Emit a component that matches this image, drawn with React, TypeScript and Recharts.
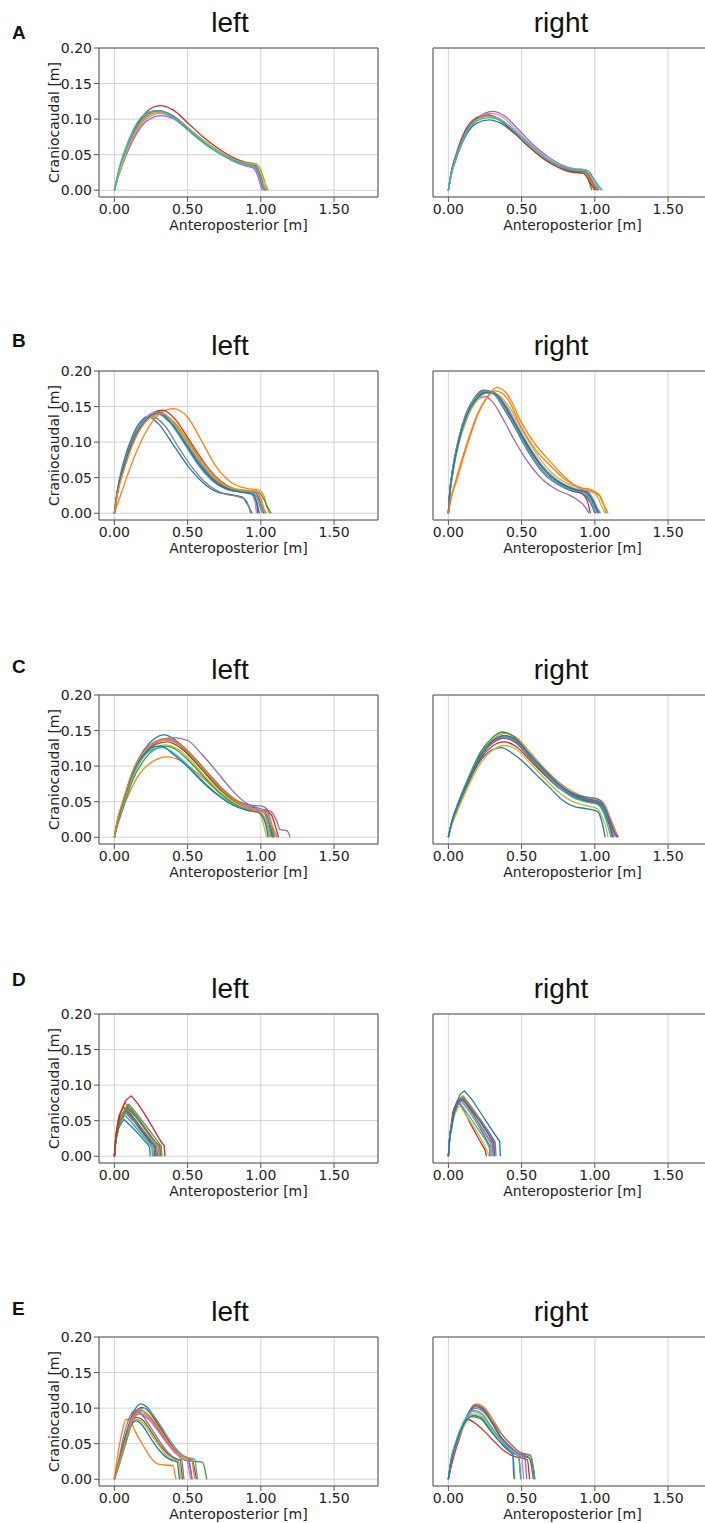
import React from "react";
import { LineChart, Line, XAxis, YAxis, CartesianGrid, ReferenceArea } from "recharts";

type Curve = number[][];

const X_TICKS = [0, 0.5, 1, 1.5];
const Y_TICKS = [0, 0.05, 0.1, 0.15, 0.2];
const ROW_LETTERS = ["A", "B", "C", "D", "E"];
const SIDE_TITLES = ["left", "right"];
const X_LABEL = "Anteroposterior [m]";
const Y_LABEL = "Craniocaudal [m]";

// trajectories, [anteroposterior, craniocaudal] in metres
const A_LEFT: Curve[] = [
  [[0,0],[0.03,0.025],[0.08,0.055],[0.15,0.087],[0.22,0.105],[0.3,0.112],[0.4,0.104],[0.5,0.087],[0.6,0.07],[0.7,0.055],[0.8,0.043],[0.9,0.036],[0.96,0.033],[0.99,0.02],[1.01,0.006],[1.03,0]],
  [[0,0],[0.03,0.023],[0.08,0.052],[0.15,0.084],[0.22,0.103],[0.3,0.11],[0.4,0.103],[0.5,0.087],[0.6,0.071],[0.7,0.057],[0.8,0.045],[0.9,0.039],[0.97,0.037],[1.0,0.028],[1.03,0.01],[1.05,0]],
  [[0,0],[0.03,0.024],[0.08,0.054],[0.15,0.086],[0.22,0.105],[0.3,0.111],[0.4,0.102],[0.5,0.085],[0.6,0.068],[0.7,0.054],[0.8,0.043],[0.9,0.035],[0.95,0.033],[0.98,0.022],[1.0,0.008],[1.02,0]],
  [[0,0],[0.03,0.024],[0.08,0.055],[0.15,0.09],[0.22,0.11],[0.31,0.119],[0.4,0.113],[0.5,0.095],[0.6,0.076],[0.7,0.06],[0.8,0.047],[0.9,0.039],[0.96,0.036],[0.99,0.024],[1.01,0.008],[1.03,0]],
  [[0,0],[0.03,0.021],[0.08,0.049],[0.15,0.079],[0.22,0.097],[0.32,0.105],[0.4,0.101],[0.5,0.086],[0.6,0.07],[0.7,0.055],[0.8,0.042],[0.9,0.034],[0.95,0.031],[0.98,0.02],[1.0,0.006],[1.01,0]],
  [[0,0],[0.03,0.023],[0.08,0.053],[0.15,0.085],[0.22,0.104],[0.3,0.111],[0.4,0.104],[0.5,0.088],[0.6,0.071],[0.7,0.056],[0.8,0.044],[0.9,0.037],[0.96,0.035],[0.99,0.025],[1.02,0.008],[1.04,0]],
  [[0,0],[0.03,0.022],[0.08,0.051],[0.15,0.082],[0.22,0.1],[0.31,0.108],[0.4,0.102],[0.5,0.086],[0.6,0.07],[0.7,0.055],[0.8,0.043],[0.9,0.035],[0.95,0.033],[0.98,0.022],[1.0,0.007],[1.02,0]],
  [[0,0],[0.03,0.025],[0.08,0.056],[0.15,0.088],[0.22,0.106],[0.29,0.112],[0.4,0.105],[0.5,0.088],[0.6,0.071],[0.7,0.056],[0.8,0.044],[0.9,0.037],[0.96,0.034],[0.99,0.022],[1.01,0.007],[1.03,0]],
  [[0,0],[0.03,0.023],[0.08,0.053],[0.15,0.085],[0.22,0.104],[0.3,0.11],[0.4,0.103],[0.5,0.087],[0.6,0.071],[0.7,0.056],[0.8,0.045],[0.9,0.038],[0.97,0.036],[1.0,0.026],[1.02,0.009],[1.04,0]],
  [[0,0],[0.03,0.029],[0.08,0.061],[0.15,0.093],[0.21,0.107],[0.28,0.112],[0.4,0.103],[0.5,0.086],[0.6,0.069],[0.7,0.054],[0.8,0.043],[0.9,0.036],[0.96,0.034],[0.99,0.024],[1.01,0.008],[1.03,0]],
];

const A_RIGHT: Curve[] = [
  [[0,0],[0.02,0.022],[0.05,0.042],[0.12,0.077],[0.19,0.094],[0.28,0.099],[0.35,0.095],[0.45,0.08],[0.55,0.061],[0.65,0.045],[0.75,0.033],[0.85,0.027],[0.93,0.026],[0.96,0.02],[0.99,0.008],[1.01,0]],
  [[0,0],[0.02,0.024],[0.05,0.045],[0.12,0.082],[0.19,0.1],[0.27,0.106],[0.35,0.1],[0.45,0.083],[0.55,0.063],[0.65,0.046],[0.75,0.034],[0.85,0.028],[0.92,0.027],[0.95,0.022],[0.98,0.008],[1.0,0]],
  [[0,0],[0.02,0.023],[0.05,0.044],[0.12,0.08],[0.19,0.098],[0.27,0.104],[0.35,0.099],[0.45,0.082],[0.55,0.062],[0.65,0.045],[0.75,0.033],[0.85,0.026],[0.92,0.024],[0.95,0.018],[0.97,0.006],[0.98,0]],
  [[0,0],[0.02,0.027],[0.05,0.049],[0.12,0.086],[0.19,0.102],[0.26,0.106],[0.35,0.099],[0.45,0.081],[0.55,0.061],[0.65,0.044],[0.75,0.032],[0.85,0.025],[0.92,0.024],[0.95,0.017],[0.98,0.006],[1.0,0]],
  [[0,0],[0.02,0.022],[0.05,0.043],[0.12,0.08],[0.2,0.101],[0.3,0.111],[0.38,0.105],[0.48,0.085],[0.58,0.064],[0.68,0.047],[0.78,0.035],[0.86,0.03],[0.93,0.029],[0.97,0.024],[1.0,0.01],[1.03,0]],
  [[0,0],[0.02,0.024],[0.05,0.045],[0.12,0.081],[0.19,0.099],[0.27,0.105],[0.35,0.1],[0.45,0.083],[0.55,0.063],[0.65,0.046],[0.75,0.034],[0.85,0.028],[0.93,0.027],[0.96,0.02],[0.99,0.008],[1.01,0]],
  [[0,0],[0.02,0.023],[0.05,0.044],[0.12,0.081],[0.2,0.1],[0.29,0.108],[0.37,0.103],[0.46,0.085],[0.56,0.065],[0.66,0.047],[0.76,0.035],[0.86,0.03],[0.93,0.029],[0.97,0.022],[1.0,0.008],[1.02,0]],
  [[0,0],[0.02,0.024],[0.05,0.046],[0.12,0.082],[0.19,0.1],[0.27,0.105],[0.35,0.1],[0.45,0.083],[0.55,0.063],[0.65,0.046],[0.75,0.034],[0.85,0.028],[0.92,0.027],[0.96,0.021],[0.99,0.008],[1.02,0]],
  [[0,0],[0.02,0.023],[0.05,0.044],[0.12,0.08],[0.19,0.098],[0.27,0.104],[0.35,0.1],[0.45,0.084],[0.55,0.064],[0.65,0.047],[0.75,0.035],[0.85,0.029],[0.93,0.028],[0.97,0.022],[1.01,0.008],[1.04,0]],
  [[0,0],[0.02,0.024],[0.05,0.045],[0.12,0.08],[0.19,0.097],[0.28,0.102],[0.36,0.098],[0.46,0.082],[0.56,0.063],[0.66,0.046],[0.76,0.034],[0.86,0.029],[0.94,0.028],[0.98,0.02],[1.02,0.008],[1.05,0]],
];

const B_LEFT: Curve[] = [
  [[0,0],[0.02,0.032],[0.06,0.07],[0.12,0.107],[0.18,0.129],[0.23,0.136],[0.3,0.126],[0.4,0.097],[0.5,0.067],[0.6,0.044],[0.7,0.03],[0.8,0.026],[0.87,0.023],[0.91,0.012],[0.94,0]],
  [[0,0],[0.03,0.018],[0.08,0.048],[0.15,0.086],[0.22,0.116],[0.3,0.138],[0.4,0.147],[0.5,0.135],[0.6,0.1],[0.7,0.064],[0.8,0.043],[0.9,0.035],[0.98,0.033],[1.02,0.025],[1.04,0.01],[1.06,0]],
  [[0,0],[0.02,0.027],[0.07,0.066],[0.14,0.106],[0.22,0.132],[0.31,0.141],[0.4,0.128],[0.5,0.1],[0.6,0.07],[0.7,0.047],[0.8,0.035],[0.9,0.031],[0.98,0.03],[1.02,0.02],[1.05,0.007],[1.07,0]],
  [[0,0],[0.02,0.03],[0.07,0.07],[0.14,0.11],[0.22,0.135],[0.33,0.145],[0.42,0.131],[0.52,0.1],[0.62,0.069],[0.72,0.046],[0.82,0.034],[0.9,0.031],[0.96,0.03],[0.99,0.018],[1.01,0.006],[1.02,0]],
  [[0,0],[0.02,0.028],[0.07,0.067],[0.14,0.107],[0.22,0.133],[0.3,0.143],[0.4,0.128],[0.5,0.098],[0.6,0.067],[0.7,0.045],[0.8,0.034],[0.9,0.031],[0.96,0.03],[0.99,0.02],[1.01,0.006],[1.03,0]],
  [[0,0],[0.02,0.028],[0.07,0.066],[0.14,0.105],[0.22,0.131],[0.3,0.14],[0.4,0.124],[0.5,0.094],[0.6,0.064],[0.7,0.043],[0.8,0.033],[0.88,0.03],[0.94,0.029],[0.97,0.017],[0.99,0]],
  [[0,0],[0.02,0.029],[0.07,0.068],[0.14,0.108],[0.21,0.133],[0.28,0.142],[0.38,0.128],[0.48,0.098],[0.58,0.066],[0.68,0.044],[0.78,0.033],[0.87,0.03],[0.93,0.028],[0.96,0.016],[0.97,0]],
  [[0,0],[0.02,0.03],[0.06,0.066],[0.12,0.103],[0.19,0.127],[0.26,0.136],[0.34,0.124],[0.44,0.092],[0.54,0.062],[0.64,0.04],[0.74,0.028],[0.83,0.024],[0.89,0.02],[0.92,0.008],[0.93,0]],
  [[0,0],[0.02,0.027],[0.07,0.065],[0.14,0.104],[0.22,0.13],[0.31,0.139],[0.4,0.127],[0.5,0.099],[0.6,0.07],[0.7,0.047],[0.8,0.035],[0.9,0.032],[0.97,0.031],[1.0,0.02],[1.02,0.006],[1.04,0]],
  [[0,0],[0.02,0.03],[0.07,0.069],[0.14,0.108],[0.21,0.132],[0.29,0.14],[0.38,0.127],[0.48,0.097],[0.58,0.066],[0.68,0.044],[0.78,0.033],[0.88,0.03],[0.95,0.029],[0.98,0.018],[1.0,0.005],[1.01,0]],
  [[0,0],[0.02,0.03],[0.07,0.069],[0.14,0.107],[0.22,0.132],[0.3,0.141],[0.4,0.124],[0.5,0.093],[0.6,0.063],[0.7,0.042],[0.8,0.032],[0.88,0.029],[0.94,0.027],[0.97,0.015],[0.98,0]],
  [[0,0],[0.02,0.026],[0.07,0.064],[0.14,0.104],[0.22,0.13],[0.31,0.14],[0.41,0.128],[0.51,0.1],[0.61,0.07],[0.71,0.047],[0.81,0.035],[0.9,0.032],[0.97,0.031],[1.0,0.02],[1.02,0.007],[1.03,0]],
];

const B_RIGHT: Curve[] = [
  [[0,0],[0.01,0.03],[0.03,0.062],[0.07,0.103],[0.12,0.137],[0.18,0.161],[0.25,0.172],[0.3,0.171],[0.38,0.153],[0.45,0.126],[0.55,0.088],[0.65,0.058],[0.75,0.041],[0.85,0.031],[0.92,0.027],[0.96,0.018],[0.99,0.006],[1.0,0]],
  [[0,0],[0.02,0.022],[0.05,0.042],[0.12,0.09],[0.2,0.138],[0.27,0.165],[0.33,0.177],[0.4,0.168],[0.5,0.127],[0.6,0.095],[0.69,0.074],[0.8,0.05],[0.9,0.034],[0.98,0.03],[1.03,0.025],[1.06,0.012],[1.09,0]],
  [[0,0],[0.01,0.028],[0.03,0.058],[0.07,0.1],[0.12,0.134],[0.18,0.158],[0.25,0.17],[0.31,0.168],[0.38,0.152],[0.46,0.123],[0.56,0.088],[0.66,0.06],[0.76,0.043],[0.86,0.034],[0.94,0.031],[0.98,0.022],[1.01,0.008],[1.03,0]],
  [[0,0],[0.01,0.032],[0.03,0.064],[0.07,0.105],[0.12,0.14],[0.18,0.163],[0.24,0.173],[0.3,0.17],[0.37,0.15],[0.45,0.122],[0.55,0.085],[0.65,0.056],[0.75,0.04],[0.85,0.031],[0.91,0.028],[0.95,0.016],[0.97,0]],
  [[0,0],[0.01,0.03],[0.03,0.06],[0.07,0.1],[0.12,0.132],[0.18,0.155],[0.25,0.164],[0.3,0.157],[0.38,0.13],[0.45,0.103],[0.55,0.07],[0.65,0.046],[0.75,0.032],[0.82,0.026],[0.88,0.019],[0.93,0.01],[0.96,0]],
  [[0,0],[0.01,0.029],[0.03,0.06],[0.07,0.102],[0.12,0.136],[0.18,0.16],[0.25,0.171],[0.31,0.17],[0.38,0.153],[0.46,0.125],[0.56,0.089],[0.66,0.06],[0.76,0.043],[0.86,0.034],[0.93,0.031],[0.97,0.022],[1.0,0.008],[1.02,0]],
  [[0,0],[0.01,0.027],[0.03,0.057],[0.07,0.098],[0.12,0.132],[0.19,0.158],[0.26,0.169],[0.32,0.168],[0.4,0.15],[0.48,0.12],[0.58,0.085],[0.68,0.058],[0.78,0.042],[0.88,0.034],[0.95,0.031],[0.99,0.02],[1.02,0.007],[1.04,0]],
  [[0,0],[0.01,0.03],[0.03,0.061],[0.07,0.102],[0.12,0.136],[0.18,0.16],[0.25,0.171],[0.3,0.17],[0.38,0.152],[0.45,0.125],[0.55,0.087],[0.65,0.058],[0.75,0.042],[0.85,0.033],[0.92,0.03],[0.96,0.02],[0.99,0.006],[1.01,0]],
  [[0,0],[0.01,0.026],[0.03,0.055],[0.07,0.096],[0.13,0.134],[0.2,0.16],[0.28,0.17],[0.34,0.167],[0.42,0.148],[0.5,0.118],[0.6,0.084],[0.7,0.058],[0.8,0.043],[0.9,0.036],[0.98,0.033],[1.02,0.022],[1.05,0.008],[1.07,0]],
  [[0,0],[0.01,0.031],[0.03,0.063],[0.07,0.104],[0.12,0.138],[0.18,0.162],[0.25,0.172],[0.3,0.17],[0.37,0.152],[0.45,0.124],[0.55,0.086],[0.65,0.057],[0.75,0.041],[0.85,0.032],[0.93,0.029],[0.97,0.02],[1.0,0.007],[1.02,0]],
  [[0,0],[0.01,0.028],[0.03,0.058],[0.07,0.1],[0.12,0.135],[0.19,0.16],[0.26,0.17],[0.32,0.168],[0.39,0.15],[0.47,0.121],[0.57,0.086],[0.67,0.058],[0.77,0.042],[0.87,0.033],[0.94,0.03],[0.98,0.02],[1.01,0.007],[1.03,0]],
  [[0,0],[0.02,0.024],[0.05,0.046],[0.12,0.094],[0.2,0.14],[0.27,0.164],[0.32,0.172],[0.4,0.162],[0.5,0.12],[0.6,0.088],[0.7,0.066],[0.8,0.047],[0.9,0.036],[0.98,0.032],[1.03,0.026],[1.06,0.012],[1.08,0]],
];

const C_LEFT: Curve[] = [
  [[0,0],[0.02,0.022],[0.06,0.05],[0.12,0.09],[0.2,0.122],[0.27,0.138],[0.34,0.144],[0.42,0.136],[0.5,0.118],[0.6,0.095],[0.7,0.072],[0.8,0.054],[0.9,0.044],[0.98,0.04],[1.02,0.036],[1.05,0.02],[1.07,0.008],[1.08,0]],
  [[0,0],[0.03,0.022],[0.08,0.052],[0.15,0.082],[0.25,0.105],[0.36,0.113],[0.45,0.108],[0.55,0.093],[0.65,0.075],[0.75,0.057],[0.85,0.043],[0.92,0.037],[1.0,0.034],[1.03,0.025],[1.05,0.01],[1.06,0]],
  [[0,0],[0.02,0.018],[0.06,0.042],[0.12,0.078],[0.2,0.108],[0.28,0.124],[0.35,0.128],[0.43,0.122],[0.52,0.105],[0.62,0.083],[0.72,0.062],[0.82,0.047],[0.92,0.04],[1.0,0.037],[1.04,0.03],[1.07,0.012],[1.09,0]],
  [[0,0],[0.02,0.02],[0.06,0.046],[0.12,0.085],[0.2,0.117],[0.28,0.132],[0.36,0.137],[0.45,0.129],[0.55,0.108],[0.65,0.085],[0.75,0.064],[0.85,0.048],[0.93,0.041],[1.02,0.038],[1.07,0.032],[1.1,0.015],[1.12,0]],
  [[0,0],[0.02,0.018],[0.06,0.044],[0.12,0.082],[0.2,0.115],[0.3,0.135],[0.4,0.14],[0.5,0.136],[0.6,0.116],[0.7,0.092],[0.8,0.067],[0.9,0.048],[1.0,0.04],[1.07,0.036],[1.11,0.022],[1.13,0.011],[1.18,0.009],[1.2,0]],
  [[0,0],[0.02,0.02],[0.06,0.046],[0.12,0.084],[0.2,0.115],[0.28,0.13],[0.36,0.134],[0.45,0.126],[0.55,0.106],[0.65,0.083],[0.75,0.062],[0.85,0.047],[0.93,0.04],[1.0,0.038],[1.04,0.03],[1.06,0.012],[1.08,0]],
  [[0,0],[0.02,0.021],[0.06,0.047],[0.12,0.086],[0.2,0.118],[0.28,0.133],[0.37,0.137],[0.46,0.128],[0.56,0.107],[0.66,0.084],[0.76,0.063],[0.86,0.048],[0.94,0.041],[1.01,0.038],[1.05,0.03],[1.08,0.012],[1.1,0]],
  [[0,0],[0.02,0.022],[0.06,0.049],[0.12,0.088],[0.2,0.12],[0.28,0.135],[0.36,0.139],[0.45,0.131],[0.55,0.111],[0.65,0.088],[0.75,0.066],[0.85,0.05],[0.93,0.045],[1.0,0.044],[1.04,0.04],[1.07,0.02],[1.09,0]],
  [[0,0],[0.02,0.02],[0.06,0.045],[0.12,0.083],[0.2,0.113],[0.28,0.127],[0.35,0.13],[0.44,0.123],[0.54,0.104],[0.64,0.081],[0.74,0.061],[0.84,0.046],[0.92,0.04],[0.98,0.037],[1.01,0.025],[1.03,0.008],[1.04,0]],
  [[0,0],[0.02,0.021],[0.06,0.047],[0.12,0.085],[0.2,0.114],[0.27,0.124],[0.33,0.126],[0.42,0.116],[0.52,0.097],[0.62,0.076],[0.72,0.058],[0.82,0.045],[0.92,0.039],[1.0,0.037],[1.04,0.028],[1.06,0.01],[1.07,0]],
  [[0,0],[0.02,0.022],[0.06,0.05],[0.12,0.088],[0.2,0.116],[0.27,0.127],[0.32,0.128],[0.4,0.117],[0.5,0.099],[0.6,0.078],[0.7,0.06],[0.8,0.046],[0.9,0.038],[0.97,0.036],[1.01,0.03],[1.04,0.012],[1.05,0]],
  [[0,0],[0.02,0.024],[0.06,0.052],[0.12,0.09],[0.2,0.12],[0.28,0.134],[0.36,0.138],[0.45,0.13],[0.55,0.109],[0.65,0.086],[0.75,0.064],[0.85,0.048],[0.93,0.039],[1.0,0.036],[1.05,0.032],[1.08,0.015],[1.11,0]],
];

const C_RIGHT: Curve[] = [
  [[0,0],[0.02,0.016],[0.06,0.04],[0.1,0.06],[0.16,0.087],[0.22,0.108],[0.29,0.122],[0.36,0.126],[0.45,0.116],[0.5,0.108],[0.6,0.088],[0.7,0.068],[0.78,0.052],[0.86,0.043],[0.95,0.04],[1.02,0.036],[1.05,0.02],[1.07,0]],
  [[0,0],[0.02,0.018],[0.06,0.042],[0.1,0.063],[0.16,0.092],[0.22,0.117],[0.3,0.137],[0.38,0.146],[0.46,0.141],[0.55,0.121],[0.65,0.098],[0.75,0.078],[0.85,0.064],[0.95,0.056],[1.02,0.054],[1.07,0.045],[1.11,0.025],[1.14,0.01],[1.16,0]],
  [[0,0],[0.02,0.02],[0.06,0.045],[0.1,0.066],[0.16,0.095],[0.22,0.12],[0.3,0.14],[0.37,0.148],[0.45,0.141],[0.55,0.118],[0.65,0.094],[0.75,0.074],[0.85,0.06],[0.95,0.053],[1.02,0.05],[1.06,0.04],[1.1,0.02],[1.13,0.006],[1.15,0]],
  [[0,0],[0.02,0.017],[0.06,0.04],[0.1,0.06],[0.16,0.087],[0.22,0.111],[0.3,0.128],[0.38,0.134],[0.46,0.128],[0.55,0.11],[0.65,0.089],[0.75,0.07],[0.85,0.057],[0.95,0.05],[1.02,0.047],[1.06,0.036],[1.1,0.018],[1.12,0]],
  [[0,0],[0.02,0.018],[0.06,0.042],[0.1,0.062],[0.16,0.09],[0.22,0.114],[0.3,0.133],[0.38,0.14],[0.46,0.134],[0.55,0.114],[0.65,0.092],[0.75,0.072],[0.85,0.058],[0.95,0.052],[1.02,0.049],[1.06,0.038],[1.1,0.018],[1.13,0]],
  [[0,0],[0.02,0.018],[0.06,0.042],[0.1,0.062],[0.16,0.089],[0.22,0.113],[0.3,0.132],[0.38,0.139],[0.46,0.133],[0.55,0.113],[0.65,0.091],[0.75,0.071],[0.85,0.058],[0.95,0.051],[1.02,0.048],[1.06,0.036],[1.1,0.016],[1.12,0]],
  [[0,0],[0.02,0.019],[0.06,0.043],[0.1,0.063],[0.16,0.091],[0.22,0.115],[0.3,0.134],[0.38,0.141],[0.46,0.136],[0.55,0.116],[0.65,0.094],[0.75,0.074],[0.85,0.061],[0.95,0.056],[1.02,0.053],[1.07,0.043],[1.11,0.022],[1.14,0]],
  [[0,0],[0.02,0.018],[0.06,0.042],[0.1,0.062],[0.16,0.09],[0.22,0.115],[0.3,0.135],[0.38,0.143],[0.46,0.138],[0.55,0.118],[0.65,0.096],[0.75,0.076],[0.85,0.062],[0.95,0.056],[1.02,0.054],[1.06,0.045],[1.1,0.024],[1.13,0.008],[1.15,0]],
  [[0,0],[0.02,0.015],[0.06,0.036],[0.1,0.055],[0.16,0.082],[0.22,0.104],[0.3,0.122],[0.38,0.129],[0.46,0.124],[0.55,0.106],[0.65,0.084],[0.75,0.064],[0.85,0.05],[0.95,0.044],[1.02,0.04],[1.05,0.028],[1.08,0.01],[1.09,0]],
  [[0,0],[0.02,0.019],[0.06,0.044],[0.1,0.064],[0.16,0.092],[0.22,0.116],[0.3,0.135],[0.38,0.142],[0.46,0.136],[0.55,0.115],[0.65,0.092],[0.75,0.071],[0.85,0.056],[0.95,0.049],[1.02,0.046],[1.06,0.034],[1.09,0.015],[1.11,0]],
  [[0,0],[0.02,0.019],[0.06,0.043],[0.1,0.063],[0.16,0.091],[0.22,0.116],[0.3,0.135],[0.38,0.143],[0.46,0.137],[0.55,0.117],[0.65,0.095],[0.75,0.075],[0.85,0.061],[0.95,0.054],[1.02,0.051],[1.07,0.04],[1.11,0.02],[1.14,0.005],[1.16,0]],
];

const D_LEFT: Curve[] = [
  [[0,0],[0.01,0.022],[0.03,0.04],[0.064,0.052],[0.12,0.041],[0.18,0.028],[0.23,0.016],[0.24,0.013],[0.245,0]],
  [[0,0],[0.01,0.03],[0.03,0.056],[0.07,0.076],[0.12,0.063],[0.2,0.04],[0.26,0.022],[0.28,0.014],[0.285,0]],
  [[0,0],[0.01,0.026],[0.04,0.055],[0.09,0.072],[0.15,0.057],[0.22,0.037],[0.28,0.02],[0.3,0.014],[0.305,0]],
  [[0,0],[0.01,0.03],[0.03,0.055],[0.06,0.069],[0.1,0.063],[0.17,0.042],[0.24,0.022],[0.26,0.014],[0.265,0]],
  [[0,0],[0.01,0.025],[0.04,0.05],[0.08,0.066],[0.14,0.052],[0.21,0.033],[0.27,0.017],[0.29,0.013],[0.295,0]],
  [[0,0],[0.01,0.024],[0.03,0.045],[0.07,0.063],[0.13,0.05],[0.2,0.031],[0.25,0.017],[0.27,0.013],[0.275,0]],
  [[0,0],[0.01,0.024],[0.04,0.048],[0.08,0.062],[0.14,0.05],[0.21,0.033],[0.28,0.017],[0.31,0.013],[0.315,0]],
  [[0,0],[0.01,0.026],[0.04,0.055],[0.1,0.073],[0.16,0.058],[0.23,0.039],[0.3,0.02],[0.32,0.014],[0.325,0]],
  [[0,0],[0.01,0.026],[0.03,0.047],[0.06,0.06],[0.11,0.05],[0.18,0.033],[0.24,0.018],[0.26,0.014],[0.265,0]],
  [[0,0],[0.01,0.025],[0.03,0.046],[0.07,0.058],[0.12,0.047],[0.18,0.032],[0.24,0.017],[0.255,0.013],[0.26,0]],
  [[0,0],[0.01,0.024],[0.04,0.05],[0.08,0.064],[0.14,0.051],[0.2,0.034],[0.26,0.018],[0.28,0.013],[0.285,0]],
  [[0,0],[0.01,0.025],[0.04,0.05],[0.09,0.067],[0.15,0.054],[0.22,0.036],[0.28,0.019],[0.3,0.014],[0.305,0]],
  [[0,0],[0.01,0.024],[0.04,0.05],[0.09,0.068],[0.15,0.055],[0.22,0.036],[0.28,0.02],[0.31,0.015],[0.315,0]],
  [[0,0],[0.01,0.028],[0.04,0.06],[0.08,0.079],[0.115,0.085],[0.16,0.074],[0.22,0.055],[0.28,0.034],[0.32,0.02],[0.34,0.015],[0.345,0]],
];

const D_RIGHT: Curve[] = [
  [[0,0],[0.01,0.03],[0.04,0.068],[0.08,0.087],[0.11,0.092],[0.16,0.08],[0.23,0.058],[0.3,0.036],[0.35,0.021],[0.355,0]],
  [[0,0],[0.01,0.03],[0.04,0.065],[0.07,0.08],[0.1,0.085],[0.15,0.072],[0.22,0.052],[0.28,0.033],[0.31,0.022],[0.315,0]],
  [[0,0],[0.01,0.03],[0.04,0.066],[0.07,0.079],[0.09,0.082],[0.14,0.068],[0.2,0.049],[0.26,0.03],[0.29,0.02],[0.295,0]],
  [[0,0],[0.01,0.03],[0.03,0.062],[0.063,0.078],[0.1,0.067],[0.15,0.046],[0.2,0.027],[0.25,0.009],[0.26,0]],
  [[0,0],[0.01,0.028],[0.04,0.062],[0.07,0.076],[0.1,0.08],[0.15,0.068],[0.22,0.05],[0.29,0.03],[0.32,0.02],[0.325,0]],
  [[0,0],[0.01,0.028],[0.04,0.063],[0.07,0.076],[0.09,0.078],[0.14,0.064],[0.2,0.045],[0.25,0.027],[0.28,0.015],[0.285,0]],
  [[0,0],[0.01,0.029],[0.04,0.062],[0.07,0.075],[0.09,0.077],[0.14,0.064],[0.2,0.046],[0.26,0.028],[0.29,0.017],[0.295,0]],
  [[0,0],[0.01,0.029],[0.04,0.064],[0.07,0.078],[0.1,0.083],[0.15,0.07],[0.21,0.051],[0.27,0.032],[0.3,0.02],[0.305,0]],
  [[0,0],[0.01,0.025],[0.04,0.057],[0.07,0.07],[0.08,0.071],[0.13,0.055],[0.19,0.036],[0.24,0.018],[0.27,0.005],[0.275,0]],
  [[0,0],[0.01,0.028],[0.04,0.06],[0.065,0.074],[0.08,0.075],[0.13,0.06],[0.19,0.042],[0.25,0.024],[0.28,0.012],[0.285,0]],
  [[0,0],[0.01,0.028],[0.04,0.062],[0.07,0.077],[0.1,0.08],[0.15,0.067],[0.22,0.048],[0.28,0.029],[0.31,0.019],[0.315,0]],
];

const E_LEFT: Curve[] = [
  [[0,0],[0.03,0.024],[0.08,0.064],[0.13,0.094],[0.18,0.106],[0.22,0.102],[0.28,0.085],[0.34,0.064],[0.4,0.045],[0.45,0.033],[0.5,0.03],[0.52,0.015],[0.53,0]],
  [[0,0],[0.02,0.03],[0.05,0.064],[0.08,0.084],[0.1,0.084],[0.14,0.068],[0.2,0.046],[0.25,0.03],[0.29,0.022],[0.35,0.02],[0.4,0.019],[0.415,0.006],[0.42,0]],
  [[0,0],[0.03,0.018],[0.08,0.052],[0.13,0.084],[0.18,0.097],[0.23,0.09],[0.3,0.07],[0.36,0.052],[0.42,0.036],[0.48,0.027],[0.55,0.025],[0.6,0.024],[0.62,0.012],[0.63,0]],
  [[0,0],[0.03,0.022],[0.08,0.06],[0.13,0.09],[0.19,0.101],[0.24,0.094],[0.3,0.076],[0.36,0.057],[0.42,0.04],[0.48,0.03],[0.53,0.027],[0.55,0.012],[0.56,0]],
  [[0,0],[0.03,0.021],[0.08,0.056],[0.12,0.083],[0.17,0.092],[0.23,0.085],[0.3,0.068],[0.36,0.052],[0.42,0.038],[0.47,0.032],[0.5,0.03],[0.52,0.012],[0.53,0]],
  [[0,0],[0.03,0.022],[0.07,0.055],[0.11,0.078],[0.15,0.087],[0.2,0.082],[0.26,0.064],[0.32,0.046],[0.38,0.033],[0.42,0.028],[0.45,0.026],[0.46,0.01],[0.465,0]],
  [[0,0],[0.03,0.022],[0.08,0.058],[0.12,0.085],[0.17,0.094],[0.22,0.089],[0.29,0.07],[0.35,0.053],[0.41,0.038],[0.46,0.031],[0.49,0.029],[0.51,0.012],[0.52,0]],
  [[0,0],[0.03,0.028],[0.07,0.066],[0.11,0.09],[0.14,0.097],[0.19,0.09],[0.25,0.072],[0.31,0.053],[0.37,0.037],[0.42,0.029],[0.46,0.027],[0.47,0.01],[0.475,0]],
  [[0,0],[0.03,0.022],[0.07,0.052],[0.11,0.076],[0.15,0.084],[0.2,0.078],[0.26,0.06],[0.32,0.043],[0.37,0.031],[0.42,0.026],[0.44,0.024],[0.45,0.01],[0.455,0]],
  [[0,0],[0.03,0.02],[0.08,0.056],[0.14,0.09],[0.2,0.1],[0.25,0.094],[0.31,0.077],[0.37,0.058],[0.43,0.041],[0.49,0.031],[0.55,0.028],[0.56,0.012],[0.57,0]],
  [[0,0],[0.03,0.023],[0.07,0.055],[0.11,0.075],[0.15,0.082],[0.19,0.076],[0.25,0.057],[0.31,0.04],[0.36,0.03],[0.4,0.026],[0.43,0.024],[0.44,0.008],[0.445,0]],
  [[0,0],[0.03,0.021],[0.08,0.057],[0.13,0.086],[0.18,0.096],[0.23,0.091],[0.3,0.073],[0.36,0.055],[0.42,0.039],[0.48,0.031],[0.53,0.028],[0.54,0.012],[0.55,0]],
];

const E_RIGHT: Curve[] = [
  [[0,0],[0.02,0.028],[0.05,0.05],[0.11,0.081],[0.18,0.104],[0.24,0.098],[0.3,0.08],[0.35,0.062],[0.42,0.046],[0.5,0.034],[0.55,0.031],[0.57,0.015],[0.58,0]],
  [[0,0],[0.02,0.027],[0.05,0.049],[0.11,0.08],[0.19,0.106],[0.25,0.1],[0.31,0.082],[0.36,0.065],[0.43,0.049],[0.5,0.036],[0.56,0.033],[0.58,0.016],[0.59,0]],
  [[0,0],[0.02,0.026],[0.05,0.048],[0.11,0.078],[0.16,0.09],[0.22,0.087],[0.28,0.072],[0.34,0.056],[0.41,0.042],[0.48,0.033],[0.55,0.03],[0.58,0.015],[0.59,0]],
  [[0,0],[0.03,0.027],[0.08,0.06],[0.13,0.084],[0.2,0.076],[0.3,0.056],[0.38,0.04],[0.45,0.032],[0.5,0.03],[0.54,0.027],[0.55,0.01],[0.555,0]],
  [[0,0],[0.02,0.027],[0.05,0.049],[0.11,0.08],[0.18,0.1],[0.24,0.095],[0.3,0.078],[0.35,0.061],[0.42,0.045],[0.48,0.036],[0.52,0.033],[0.53,0.015],[0.535,0]],
  [[0,0],[0.02,0.027],[0.05,0.049],[0.11,0.08],[0.18,0.102],[0.24,0.097],[0.3,0.079],[0.35,0.061],[0.42,0.045],[0.46,0.036],[0.48,0.033],[0.49,0.012],[0.495,0]],
  [[0,0],[0.02,0.026],[0.05,0.048],[0.11,0.078],[0.17,0.095],[0.23,0.091],[0.29,0.075],[0.35,0.058],[0.42,0.043],[0.48,0.034],[0.5,0.032],[0.51,0.012],[0.515,0]],
  [[0,0],[0.02,0.028],[0.05,0.051],[0.11,0.082],[0.18,0.105],[0.24,0.1],[0.3,0.082],[0.36,0.064],[0.43,0.048],[0.5,0.037],[0.56,0.034],[0.58,0.016],[0.59,0]],
  [[0,0],[0.02,0.025],[0.05,0.046],[0.11,0.076],[0.17,0.092],[0.23,0.088],[0.29,0.071],[0.35,0.054],[0.4,0.042],[0.44,0.036],[0.45,0.015],[0.455,0]],
  [[0,0],[0.02,0.03],[0.05,0.052],[0.11,0.083],[0.17,0.097],[0.23,0.092],[0.29,0.074],[0.35,0.057],[0.41,0.043],[0.46,0.035],[0.48,0.033],[0.49,0.012],[0.495,0]],
  [[0,0],[0.02,0.026],[0.05,0.048],[0.11,0.079],[0.16,0.088],[0.22,0.085],[0.28,0.07],[0.34,0.055],[0.39,0.044],[0.43,0.037],[0.44,0.035],[0.445,0.01],[0.45,0]],
];

const PANELS: Curve[][][] = [
  [A_LEFT, A_RIGHT],
  [B_LEFT, B_RIGHT],
  [C_LEFT, C_RIGHT],
  [D_LEFT, D_RIGHT],
  [E_LEFT, E_RIGHT],
];

// matplotlib tab10 cycle
const COLORS = ["#1f77b4", "#ff7f0e", "#2ca02c", "#d62728", "#9467bd", "#8c564b", "#e377c2", "#7f7f7f", "#bcbd22", "#17becf"];

// layout (page pixels)
const ROW_TOPS = [48, 371, 695, 1014, 1337];
const LETTER_BASELINES = [39, 347, 673, 986, 1315];
const PLOT_W = 279;
const PLOT_H = 149;
const PLOT_LEFTS = [99, 433.3];
const TITLE_CENTERS = [230, 561];
const X_DOMAIN = [-0.105, 1.8];
const Y_DOMAIN = [-0.0095, 0.2];

const AXIS_FONT = "'DejaVu Sans', sans-serif";
const TEXT_COLOR = "#222";

const toPts = (c: Curve) => c.map(([x, y]) => ({ x, y }));

function Panel({ curves, side, top, sharp }: { curves: Curve[]; side: number; top: number; sharp: boolean }) {
  const isLeft = side === 0;
  const yAxisW = isLeft ? 99 : 10;
  const plotLeft = PLOT_LEFTS[side];
  return (
    <div style={{ position: "absolute", left: plotLeft - yAxisW, top: top - 10 }}>
      <LineChart
        width={yAxisW + PLOT_W + 4}
        height={10 + PLOT_H + 40}
        margin={{ top: 10, right: 4, bottom: 0, left: 0 }}
      >
        <CartesianGrid stroke="#d2d2d2" strokeWidth={1} />
        <XAxis
          type="number"
          dataKey="x"
          domain={X_DOMAIN}
          ticks={X_TICKS}
          allowDataOverflow
          height={40}
          tickSize={5}
          axisLine={false}
          tickLine={{ stroke: "#555" }}
          tickFormatter={(v: number) => v.toFixed(2)}
          tick={{ fontSize: 14, fill: TEXT_COLOR, fontFamily: AXIS_FONT }}
          label={{ value: X_LABEL, position: "insideBottom", offset: 7.5, style: { fontSize: 14, fill: TEXT_COLOR, fontFamily: AXIS_FONT } }}
        />
        <YAxis
          type="number"
          domain={Y_DOMAIN}
          ticks={Y_TICKS}
          allowDataOverflow
          width={yAxisW}
          tickSize={5}
          axisLine={false}
          tickLine={{ stroke: "#555" }}
          tickFormatter={(v: number) => v.toFixed(2)}
          tick={isLeft ? { fontSize: 14, fill: TEXT_COLOR, fontFamily: AXIS_FONT } : false}
          label={
            isLeft
              ? { value: Y_LABEL, angle: -90, position: "insideLeft", offset: 54, style: { textAnchor: "middle", fontSize: 14, fill: TEXT_COLOR, fontFamily: AXIS_FONT } }
              : undefined
          }
        />
        {curves.map((c, i) => (
          <Line
            key={i}
            data={toPts(c)}
            dataKey="y"
            type={sharp ? "linear" : "monotone"}
            stroke={COLORS[i % COLORS.length]}
            strokeWidth={1.3}
            dot={false}
            activeDot={false}
            isAnimationActive={false}
          />
        ))}
        <ReferenceArea
          x1={X_DOMAIN[0]}
          x2={X_DOMAIN[1]}
          y1={Y_DOMAIN[0]}
          y2={Y_DOMAIN[1]}
          fill="none"
          stroke="#555"
          strokeWidth={1}
          ifOverflow="visible"
        />
      </LineChart>
    </div>
  );
}

export default function App() {
  return (
    <div
      style={{
        position: "fixed",
        left: 0,
        top: 0,
        width: 705,
        height: 1523,
        overflow: "hidden",
        background: "#fff",
        fontFamily: "'Liberation Sans', Arial, sans-serif",
      }}
    >
      {PANELS.map((row, r) => (
        <React.Fragment key={r}>
          <div
            style={{
              position: "absolute",
              left: 12,
              top: LETTER_BASELINES[r] - 16.1,
              fontSize: 19,
              lineHeight: "19px",
              fontWeight: 700,
              color: "#111",
            }}
          >
            {ROW_LETTERS[r]}
          </div>
          {row.map((curves, s) => (
            <React.Fragment key={s}>
              <div
                style={{
                  position: "absolute",
                  left: TITLE_CENTERS[s] - 100,
                  width: 200,
                  top: ROW_TOPS[r] - 15 - 23.7,
                  fontSize: 28,
                  lineHeight: "28px",
                  textAlign: "center",
                  color: "#111",
                }}
              >
                {SIDE_TITLES[s]}
              </div>
              <Panel curves={curves} side={s} top={ROW_TOPS[r]} sharp={r === 3} />
            </React.Fragment>
          ))}
        </React.Fragment>
      ))}
    </div>
  );
}
